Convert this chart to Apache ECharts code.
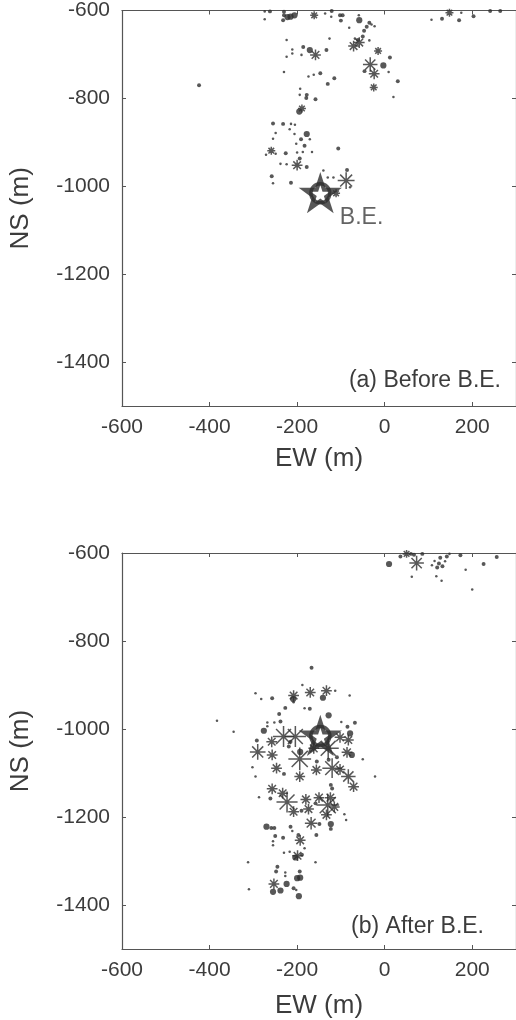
<!DOCTYPE html>
<html><head><meta charset="utf-8">
<script src="https://cdn.jsdelivr.net/npm/echarts@6/dist/echarts.min.js"></script>
<style>html,body{margin:0;padding:0;background:#fff}#c{width:516px;height:1020px}</style>
</head><body><div id="c"></div><script>
// ---- data (EW, NS in metres; mag = relative event size) ----
const xTicks = [-600, -400, -200, 0, 200];
const yTicks = [-1400, -1200, -1000, -800, -600];
const mainEventEW = -147;
const mainEventNS = -1016;

const beforeEW = [-274,-262,-230,-230,-232,-274,-215,-206,-222,-161,-136,-121,-122,-102,-96,-100,-59,-58,-81,-35,
  -30,-23,-41,-47,-50,-61,-68,-71,-58,-35,-224,-126,-186,-171,-158,-133,-211,-211,-224,-190,
  -15,12,-33,-3,-24,-46,9,-230,-174,-162,-147,-115,-130,30,-25,-193,-178,-179,-194,-158,
  20,-424,-189,-195,-255,-232,-214,-205,-217,-249,-255,-178,-206,-191,-171,-202,-183,-259,-271,-249,
  -226,-200,-187,-166,-106,-194,-200,-238,-224,-178,-258,-255,-214,-140,-86,-88,-130,-117,-111,-79,
  107,131,148,170,175,203,241,264];
const beforeNS = [-602,-602,-603,-611,-622,-620,-614,-611,-615,-611,-607,-601,-614,-611,-611,-623,-611,-622,-639,-628,
  -632,-636,-637,-646,-659,-667,-664,-681,-673,-668,-667,-664,-683,-690,-701,-690,-689,-698,-705,-701,
  -692,-707,-723,-725,-744,-738,-740,-740,-750,-746,-743,-754,-767,-761,-775,-778,-792,-799,-792,-802,
  -797,-770,-823,-830,-857,-858,-858,-860,-870,-879,-892,-881,-881,-893,-893,-903,-908,-919,-928,-926,
  -925,-923,-922,-922,-914,-937,-952,-949,-950,-956,-977,-993,-992,-964,-963,-987,-980,-980,-1016,-1002,
  -621,-619,-605,-622,-605,-613,-601,-601];
const beforeMag = [-1.2,-0.9,-0.9,-0.9,-0.9,-1.2,-0.6,-0.6,-0.6,-0.4,-1.2,-0.9,-1.2,-0.9,-0.9,-0.9,-1.2,-0.6,-1.2,-0.9,
  -1.2,-1.2,-0.9,-0.9,-0.9,-0.9,-1.2,-0.2,-0.2,-1.2,-1.2,-1.2,-0.9,-0.6,-0.2,-0.9,-1.2,-1.2,-1.2,-1.2,
  -0.4,-0.9,0.0,-0.6,-0.2,-0.9,-1.2,-1.2,-1.2,-1.2,-0.9,-0.9,-0.9,-0.9,-0.4,-1.2,-0.9,-0.9,-1.2,-0.9,
  -1.2,-0.9,-0.4,-0.6,-0.9,-0.9,-1.2,-1.2,-1.2,-1.2,-1.2,-0.6,-1.2,-0.9,-1.2,-1.2,-0.9,-0.4,-1.2,-1.2,
  -0.9,-1.2,-1.2,-1.2,-0.9,-0.9,-0.2,-1.2,-1.2,-0.9,-0.9,-1.2,-0.9,-1.2,-0.9,0.1,-1.2,-1.2,-0.4,-1.2,
  -1.2,-0.9,-0.4,-0.9,-1.2,-0.9,-0.9,-0.9];

const afterEW = [10,36,50,60,67,86,73,62,114,127,142,138,124,120,132,108,148,118,130,173,
  185,226,256,200,-167,-295,-282,-257,-208,-209,-170,-133,-141,-113,-80,-188,-208,-171,-227,-241,
  -238,-252,-268,-128,-99,-68,-183,-383,-345,-276,-268,-231,-204,-258,-292,-290,-257,-194,-162,-129,
  -102,-83,-79,-85,-86,-75,-50,-193,-219,-215,-247,-156,-120,-102,-83,-194,-155,-128,-109,-22,
  -302,-295,-230,-71,-257,-233,-223,-287,-261,-208,-180,-174,-150,-130,-115,-124,-120,-123,-133,-168,
  -149,-123,-123,-156,-92,-88,-190,-158,-270,-259,-252,-215,-211,-250,-232,-255,-255,-193,-197,-183,
  -230,-217,-199,-204,-189,-312,-158,-245,-248,-227,-227,-194,-193,-200,-253,-255,-238,-224,-208,-196,
  -310,-202];
const afterNS = [-625,-608,-602,-602,-604,-602,-623,-654,-618,-611,-608,-619,-624,-633,-630,-628,-602,-653,-663,-605,
  -638,-625,-609,-683,-861,-919,-932,-930,-924,-932,-917,-913,-929,-913,-924,-900,-939,-954,-952,-966,
  -983,-985,-985,-969,-984,-986,-953,-981,-1006,-1004,-994,-1017,-1017,-1029,-1026,-1052,-1059,-1068,-1044,-1044,
  -1019,-1025,-1010,-995,-1053,-1059,-1069,-1052,-1040,-1029,-1089,-1093,-1089,-1092,-1108,-1108,-1074,-1070,-1064,-1108,
  -1087,-1108,-1102,-1131,-1136,-1146,-1166,-1155,-1158,-1188,-1160,-1182,-1156,-1173,-1177,-1156,-1135,-1127,-1195,-1214,
  -1216,-1216,-1227,-1241,-1194,-1207,-1186,-1169,-1222,-1225,-1225,-1222,-1232,-1243,-1247,-1255,-1264,-1253,-1241,-1271,
  -1281,-1279,-1288,-1292,-1286,-1303,-1303,-1313,-1324,-1326,-1334,-1324,-1338,-1339,-1352,-1370,-1367,-1352,-1362,-1380,
  -1364,-1366];
const afterMag = [-0.6,-0.9,-0.4,-0.9,-0.9,-0.9,0.0,-1.2,-1.2,-0.9,-0.9,-1.2,-0.9,-0.9,-0.9,-1.2,-1.2,-1.2,-1.2,-0.9,
  -1.2,-0.9,-0.9,-1.2,-0.9,-1.2,-1.2,-0.9,-0.2,-0.6,-0.2,-0.2,-0.6,-1.2,-1.2,-1.2,-1.2,-0.9,-0.9,-0.9,
  -0.9,-1.2,-1.2,-0.6,-1.2,-0.9,-1.2,-1.2,-1.2,-0.6,-1.2,0.25,0.25,-0.2,-0.9,0.05,-0.2,0.3,-0.2,0.25,
  -0.2,-0.2,-0.6,-0.9,-0.2,-0.6,-1.2,-0.6,-0.9,-0.9,-0.2,-0.2,0.2,-0.2,0.0,-0.2,-0.9,-0.9,-0.9,-1.2,
  -1.2,-1.2,-0.9,-0.2,-0.2,-0.2,0.25,-1.2,-0.9,-0.2,-0.2,-0.2,-0.2,0.3,-0.2,-0.2,-0.9,-0.9,-0.2,-0.1,
  -0.9,-0.6,-0.9,-0.9,-1.2,-1.2,-0.9,-0.9,-0.6,-0.9,-0.9,-0.9,-1.2,-0.9,-0.9,-1.2,-1.2,-0.2,-0.9,-1.2,
  -1.2,-1.2,-0.2,-0.6,-0.9,-1.2,-1.2,-0.9,-0.9,-1.2,-1.2,-0.9,-0.6,-0.6,-0.2,-0.6,-0.6,-0.6,-0.9,-0.6,
  -1.2,-1.2];

// ---- styling ----
const INK = '#2e2e2e', TXT = '#3c3c3c', AX = '#555555';
const FONT = 'Liberation Sans, Arial, Helvetica, sans-serif';
const ASTER = 'path://M10,0L10,20M0,10L20,10M2.93,2.93L17.07,17.07M2.93,17.07L17.07,2.93';
const STAR = 'path://M50,0L61.23,34.55L97.55,34.55L68.17,55.9L79.39,90.45L50,69.1L20.61,90.45L31.83,55.9L2.45,34.55L38.77,34.55Z';
function sizeOf(m) { return 2.4 * Math.exp((m + 1.2) * 1.5); }
function pts(ew, ns, mag) {
  return ew.map((x, i) => {
    const s = sizeOf(mag[i]);
    const ast = s >= 7;
    return {
      value: [x, ns[i]],
      symbol: ast ? ASTER : 'circle',
      symbolSize: ast ? s : s * 1.05,
      itemStyle: ast ? { color: 'rgba(0,0,0,0)', borderColor: INK, borderWidth: 1.5 }
                     : { color: INK, borderWidth: 0 }
    };
  });
}

const grids = [
  { left: 120, top: 10, width: 396, height: 396 },
  { left: 120, top: 553, width: 396, height: 396 }
];
const line = { show: true, onZero: false, lineStyle: { color: AX, width: 1.2 } };
const plain = v => String(v);
function xAxes(g, gap) {
  return [
    { gridIndex: g, type: 'value', min: -600, max: 300, position: 'bottom',
      axisLine: line,
      axisTick: { show: true, inside: true, length: 4, customValues: xTicks, lineStyle: { color: AX } },
      axisLabel: { show: true, customValues: xTicks, formatter: plain, color: TXT, fontSize: 21, margin: 11, fontFamily: FONT },
      splitLine: { show: false },
      name: 'EW (m)', nameLocation: 'middle', nameGap: gap,
      nameTextStyle: { color: TXT, fontSize: 26, fontFamily: FONT } },
    { gridIndex: g, type: 'value', min: -600, max: 300, position: 'top',
      axisLine: line,
      axisTick: { show: true, inside: true, length: 4, customValues: xTicks, lineStyle: { color: AX } },
      axisLabel: { show: false }, splitLine: { show: false } }
  ];
}
function yAxes(g) {
  return [
    { gridIndex: g, type: 'value', min: -1500, max: -600, position: 'left',
      axisLine: line,
      axisTick: { show: true, inside: true, length: 4, customValues: yTicks, lineStyle: { color: AX } },
      axisLabel: { show: true, customValues: yTicks, formatter: plain, color: TXT, fontSize: 21, margin: 12, fontFamily: FONT },
      splitLine: { show: false },
      name: 'NS (m)', nameLocation: 'middle', nameGap: 88,
      nameTextStyle: { color: TXT, fontSize: 26, fontFamily: FONT } },
    { gridIndex: g, type: 'value', min: -1500, max: -600, position: 'right',
      axisLine: line,
      axisTick: { show: true, inside: true, length: 4, customValues: yTicks, lineStyle: { color: AX } },
      axisLabel: { show: false }, splitLine: { show: false } }
  ];
}
function starSeries(xi, yi, withLabel) {
  return [
    { type: 'scatter', xAxisIndex: xi, yAxisIndex: yi, z: 5,
      data: [[mainEventEW, mainEventNS]],
      symbol: 'circle', symbolSize: 19,
      itemStyle: { color: 'rgba(0,0,0,0)', borderColor: INK, borderWidth: 3.5 }, silent: true },
    { type: 'scatter', xAxisIndex: xi, yAxisIndex: yi, z: 6,
      data: [[mainEventEW, mainEventNS]],
      symbol: STAR, symbolSize: 31, symbolKeepAspect: true,
      itemStyle: { color: 'rgba(0,0,0,0)', borderColor: INK, borderWidth: 4 },
      label: withLabel ? { show: true, formatter: 'B.E.', position: 'right', distance: 2, offset: [0, 24],
        color: TXT, fontSize: 23, fontFamily: FONT } : { show: false },
      silent: true }
  ];
}

const chart = echarts.init(document.getElementById('c'), null, { renderer: 'canvas' });
chart.setOption({
  animation: false,
  backgroundColor: '#ffffff',
  textStyle: { fontFamily: FONT },
  grid: grids,
  xAxis: [...xAxes(0, 40), ...xAxes(1, 44)],
  yAxis: [...yAxes(0), ...yAxes(1)],
  series: [
    { type: 'scatter', xAxisIndex: 0, yAxisIndex: 0, data: pts(beforeEW, beforeNS, beforeMag), silent: true },
    ...starSeries(0, 0, true),
    { type: 'scatter', xAxisIndex: 2, yAxisIndex: 2, data: pts(afterEW, afterNS, afterMag), silent: true },
    ...starSeries(2, 2, false)
  ],
  graphic: [
    { type: 'text', right: 15, top: 369, style: { text: '(a) Before B.E.', fill: TXT, fontSize: 23, fontFamily: FONT } },
    { type: 'text', right: 32, top: 915, style: { text: '(b) After B.E.', fill: TXT, fontSize: 23, fontFamily: FONT } }
  ]
});
</script></body></html>
